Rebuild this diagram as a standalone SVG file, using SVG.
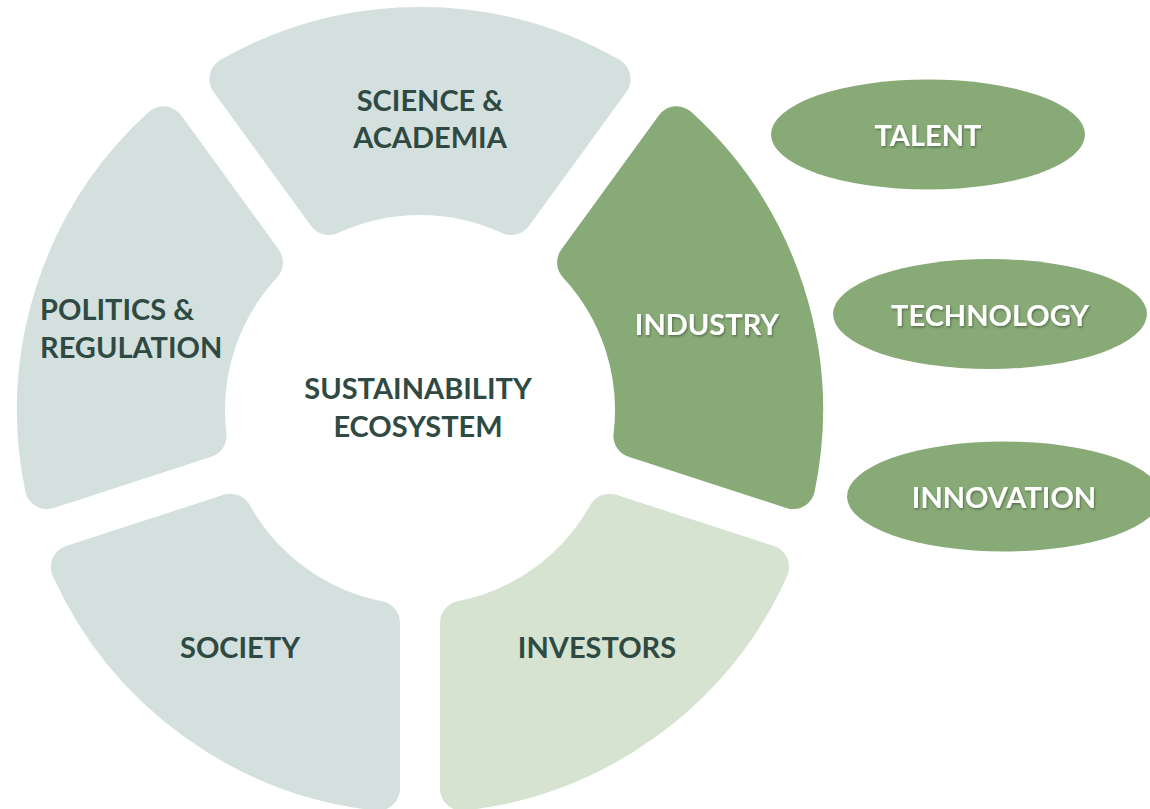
<svg xmlns="http://www.w3.org/2000/svg" xmlns:xlink="http://www.w3.org/1999/xlink" width="1150" height="809" viewBox="0 0 1150 809">
<style>
.seg{stroke-width:44;stroke-linejoin:round}
.grey{fill:#d3e0de;stroke:#d3e0de}
.ind{fill:#87aa76;stroke:#87aa76}
.inv{fill:#d6e3d1;stroke:#d6e3d1}
.oval{fill:#87aa76}
.t{font-family:Lato,"Open Sans","Liberation Sans",sans-serif;font-weight:700;font-size:29px;fill:#2f4a43;text-anchor:middle}
.w{fill:#ffffff}
.l{text-anchor:start}
</style>
<defs>
<path id="seg" d="M231.39,78.96 A381,381 0 0 1 608.61,78.96 L511.16,213.07 A217,217 0 0 0 328.84,213.07 Z"/>
<filter id="sh" x="-10%" y="-20%" width="120%" height="140%">
<feDropShadow dx="1" dy="1.5" stdDeviation="0.8" flood-color="#000" flood-opacity="0.35"/>
</filter>
</defs>
<rect width="1150" height="809" fill="#ffffff"/>
<g id="science">
<use xlink:href="#seg" class="seg grey"/>
<text class="t" x="430" y="111">SCIENCE &amp;</text>
<text class="t" x="430" y="148">ACADEMIA</text>
</g>
<g id="industry">
<use xlink:href="#seg" class="seg ind" transform="rotate(72 420 410)"/>
<text class="t w" x="707" y="335" filter="url(#sh)">INDUSTRY</text>
</g>
<g id="investors">
<use xlink:href="#seg" class="seg inv" transform="rotate(144 420 410)"/>
<text class="t" x="597" y="658">INVESTORS</text>
</g>
<g id="society">
<use xlink:href="#seg" class="seg grey" transform="rotate(216 420 410)"/>
<text class="t" x="240" y="658">SOCIETY</text>
</g>
<g id="politics">
<use xlink:href="#seg" class="seg grey" transform="rotate(288 420 410)"/>
<text class="t l" x="40" y="320">POLITICS &amp;</text>
<text class="t l" x="40" y="358">REGULATION</text>
</g>
<g id="center">
<text class="t" x="418" y="399">SUSTAINABILITY</text>
<text class="t" x="418" y="437">ECOSYSTEM</text>
</g>
<g id="talent">
<ellipse class="oval" cx="928" cy="134.5" rx="157" ry="55"/>
<text class="t w" x="928" y="146" filter="url(#sh)">TALENT</text>
</g>
<g id="technology">
<ellipse class="oval" cx="990" cy="314" rx="157" ry="55"/>
<text class="t w" x="990" y="326" filter="url(#sh)">TECHNOLOGY</text>
</g>
<g id="innovation">
<ellipse class="oval" cx="1004" cy="496.5" rx="157" ry="55"/>
<text class="t w" x="1004" y="508" filter="url(#sh)">INNOVATION</text>
</g>
<g id="connectors"/>
</svg>
